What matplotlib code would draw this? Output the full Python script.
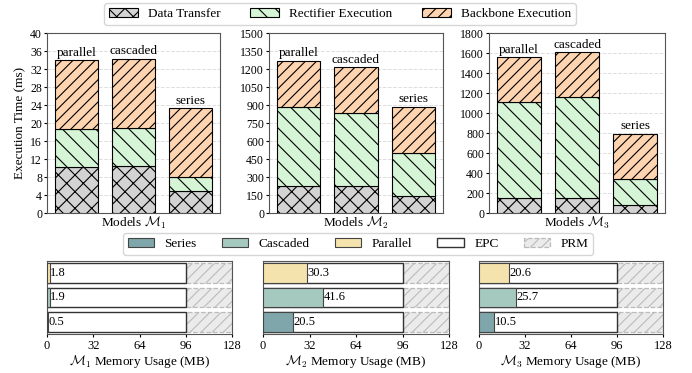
import matplotlib
matplotlib.use('Agg')
import matplotlib.pyplot as plt
import numpy as np

plt.rcParams['font.family'] = ['Liberation Serif', 'DejaVu Serif']
plt.rcParams['mathtext.fontset'] = 'cm'
plt.rcParams['font.size'] = 9
plt.rcParams['hatch.linewidth'] = 0.8

# top row: stacked execution times
variants = ['parallel', 'cascaded', 'series']
data_transfer = {1: [10.3, 10.4, 4.9],
                 2: [225, 225, 140],
                 3: [155, 150, 80]}
rectifier = {1: [8.4, 8.6, 3.1],
             2: [660, 610, 360],
             3: [960, 1015, 265]}
backbone = {1: [15.3, 15.3, 15.3],
            2: [385, 380, 385],
            3: [445, 445, 450]}
y_max = {1: 40, 2: 1500, 3: 1800}
y_step = {1: 4, 2: 150, 3: 200}

# bottom row: memory usage (rows from bottom: series, cascaded, parallel)
mem_rows = ['Series', 'Cascaded', 'Parallel']
mem_usage = {1: [0.5, 1.9, 1.8],
             2: [20.5, 41.6, 30.3],
             3: [10.5, 25.7, 20.6]}
EPC = 96
PRM = 128

C_DATA = '#d3d3d3'
C_RECT = '#d6f5d6'
C_BACK = '#ffd4b0'
C_MEM = {'Series': '#7fa6aa', 'Cascaded': '#a5c9bf', 'Parallel': '#f5e3ae'}

W, H = 692, 373
fig = plt.figure(figsize=(W / 100, H / 100), dpi=100)


def px_axes(left, top, right, bottom):
    return fig.add_axes([left / W, 1 - bottom / H, (right - left) / W, (bottom - top) / H])


top_boxes = [(47, 33, 220, 213), (269, 33, 443, 213), (489, 33, 665, 213)]
bot_boxes = [(47, 261, 232, 334), (263, 261, 449, 334), (479, 261, 663, 334)]

x = np.arange(len(variants))
handles_top = None
for i, box in enumerate(top_boxes, start=1):
    ax = px_axes(*box)
    d = np.array(data_transfer[i])
    r = np.array(rectifier[i])
    b = np.array(backbone[i])
    h1 = ax.bar(x, d, 0.75, color=C_DATA, edgecolor='black', hatch='xx', lw=0.8, zorder=3)
    h2 = ax.bar(x, r, 0.75, bottom=d, color=C_RECT, edgecolor='black', hatch='\\\\', lw=0.8, zorder=3)
    h3 = ax.bar(x, b, 0.75, bottom=d + r, color=C_BACK, edgecolor='black', hatch='///', lw=0.8, zorder=3)
    handles_top = [h1, h2, h3]
    tot = d + r + b
    for xi, t, name in zip(x, tot, variants):
        ax.text(xi, t + y_max[i] * 0.008, name, ha='center', va='bottom', fontsize=9.5)
    ax.set_ylim(0, y_max[i])
    ax.set_yticks(np.arange(0, y_max[i] + 1, y_step[i]))
    ax.set_xticks([])
    ax.grid(axis='y', ls='--', color='#dddddd', lw=0.7, zorder=0)
    ax.set_xlabel(r'Models $\mathcal{M}_%d$' % i, labelpad=1, fontsize=9.5)
    ax.tick_params(axis='y', length=2, pad=1.5, labelsize=8.5)
    for s in ax.spines.values():
        s.set_color('#555555')
    if i == 1:
        ax.set_ylabel('Execution Time (ms)', fontsize=9.5, labelpad=3)

fig.legend(handles_top, ['Data Transfer', 'Rectifier Execution', 'Backbone Execution'],
           loc='center', bbox_to_anchor=(340 / W, 1 - 14 / H), ncol=3, fontsize=9.5,
           handlelength=2.2, columnspacing=2.2, handletextpad=0.8,
           borderpad=0.35, frameon=True, edgecolor='#cccccc')

ypos = np.arange(len(mem_rows))
mem_handles = {}
for i, box in enumerate(bot_boxes, start=1):
    ax = px_axes(*box)
    hp = ax.barh(ypos, [PRM - EPC] * 3, 0.82, left=EPC, color='#ebebeb', edgecolor='#bbbbbb',
                 hatch='///', lw=0.9, ls='--', zorder=1)
    he = ax.barh(ypos, [EPC] * 3, 0.82, color='white', edgecolor='#333333', lw=1.0, zorder=2)
    for yi, name, v in zip(ypos, mem_rows, mem_usage[i]):
        h = ax.barh(yi, v, 0.82, color=C_MEM[name], edgecolor='#444444', lw=0.8, zorder=3)
        mem_handles[name] = h
        ax.text(v + 0.4, yi, '%.1f' % v, va='center', ha='left', fontsize=9, zorder=4)
    mem_handles['EPC'] = he
    mem_handles['PRM'] = hp
    ax.set_xlim(0, PRM)
    ax.set_ylim(-0.5, 2.5)
    ax.set_xticks([0, 32, 64, 96, 128])
    ax.set_yticks([])
    ax.tick_params(axis='x', length=2, pad=2, labelsize=9)
    ax.set_xlabel(r'$\mathcal{M}_%d$ Memory Usage (MB)' % i, labelpad=1, fontsize=9.5)
    for s in ax.spines.values():
        s.set_color('#555555')

leg_names = ['Series', 'Cascaded', 'Parallel', 'EPC', 'PRM']
fig.legend([mem_handles[n] for n in leg_names], leg_names,
           loc='center', bbox_to_anchor=(358 / W, 1 - 244 / H), ncol=5, fontsize=9.5,
           handlelength=2.0, columnspacing=1.9, handletextpad=0.8,
           borderpad=0.35, frameon=True, edgecolor='#cccccc')

fig.savefig('out.png', dpi=100)
